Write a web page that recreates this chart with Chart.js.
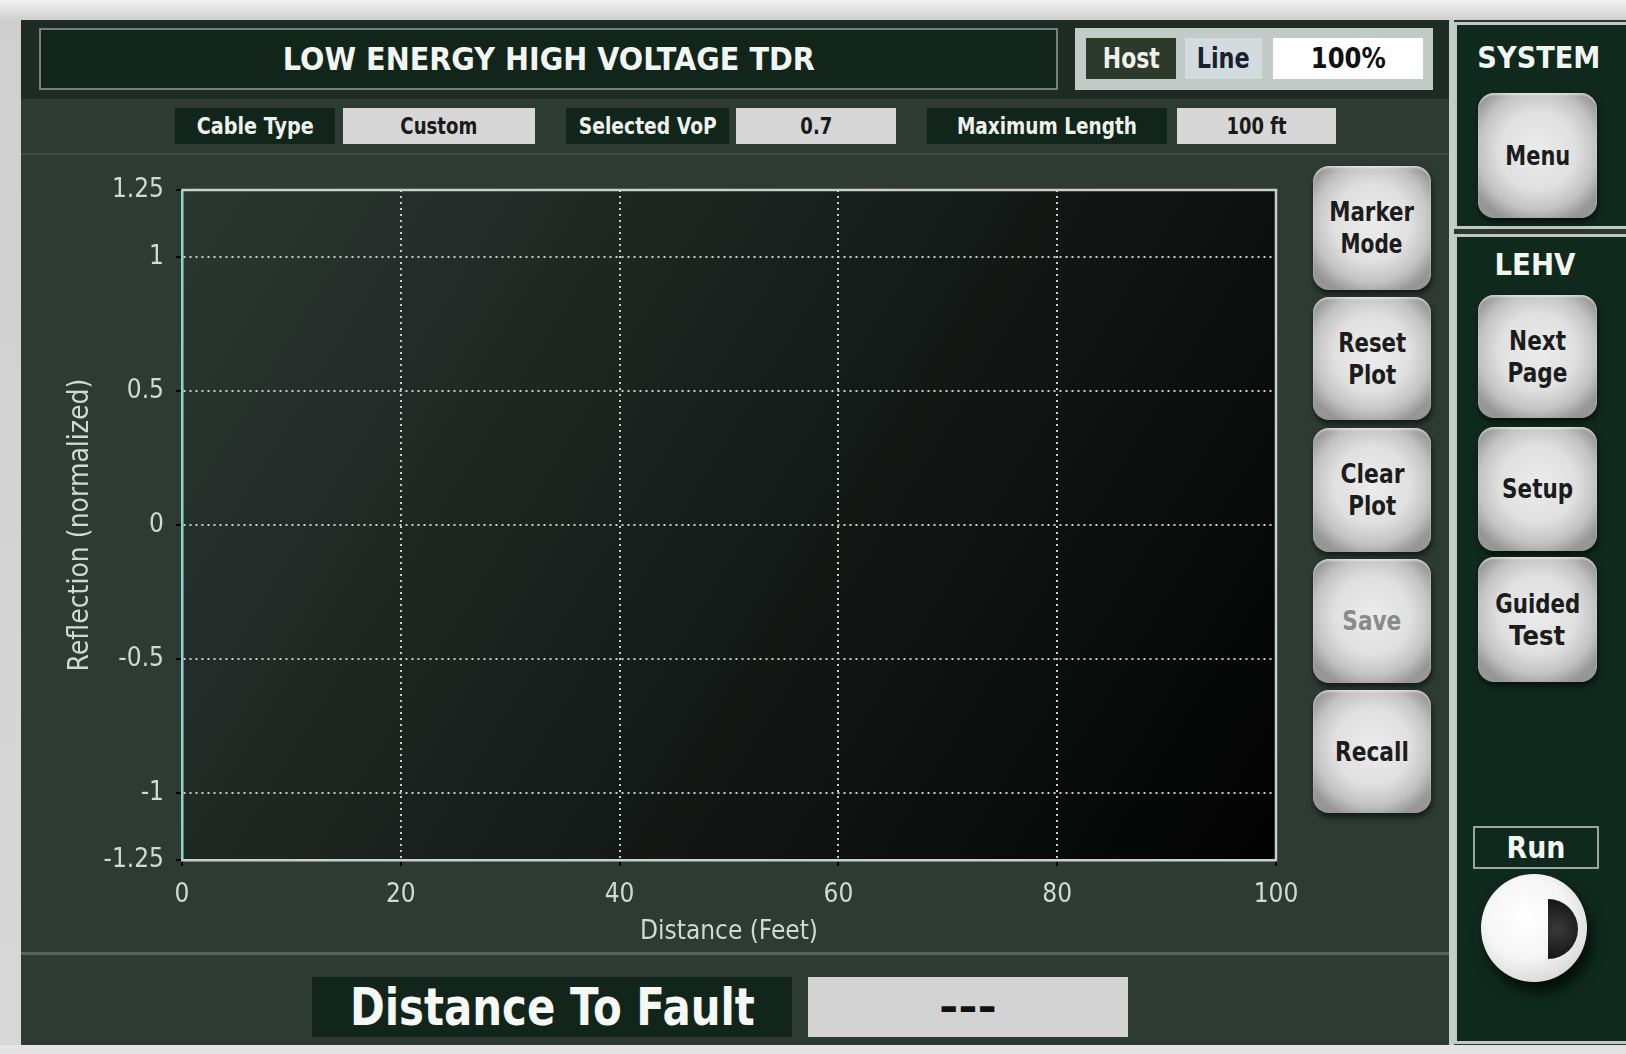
<!DOCTYPE html>
<html>
<head>
<meta charset="utf-8">
<script src="https://cdn.jsdelivr.net/npm/chart.js@4.4.1/dist/chart.umd.min.js"></script>
<style>
  html,body{margin:0;padding:0;}
  body{width:1626px;height:1054px;overflow:hidden;position:relative;
       background:linear-gradient(#f2f2f2,#cfcfcf 20px,#d8d8d8);font-family:"DejaVu Sans",sans-serif;}
  .abs{position:absolute;box-sizing:border-box;}
  .ctr{display:flex;flex-direction:column;align-items:center;justify-content:center;}
  .fit{display:inline-block;white-space:nowrap;line-height:1;font-weight:bold;transform-origin:50% 50%;}
  .btn{border-radius:16px;
       background:radial-gradient(ellipse 62% 60% at 50% 46%,#ececec 0%,#e0e0e0 52%,#c2c2c2 80%,#969696 100%);
       box-shadow:1px 4px 6px rgba(0,0,0,0.6), inset 0 2px 2px rgba(255,255,255,0.5);}
  .btn .fit{font-size:27px;color:#1c1c1c;line-height:32px;}
  .lbl{background:#12251a;}
  .lbl .fit{color:#eef2ee;font-size:23px;}
  .val{background:#d7d7d7;}
  .val .fit{color:#1a1a1a;font-size:23px;}
  #chartWrap{position:absolute;left:0;top:0;width:1626px;height:1054px;pointer-events:none;}
</style>
</head>
<body>
<!-- main panel -->
<div class="abs" style="left:21px;top:20px;width:1431px;height:1025px;background:#2e3b35;"></div>
<div class="abs" style="left:21px;top:20px;width:1429px;height:79px;background:#1e2b25;"></div>
<div class="abs" style="left:21px;top:153px;width:1429px;height:2px;background:#3f4c46;"></div>
<div class="abs" style="left:21px;top:952px;width:1429px;height:3px;background:#56635c;"></div>
<div class="abs" style="left:1449px;top:20px;width:5px;height:1025px;background:#c5cdc9;"></div>
<div class="abs" style="left:1454px;top:20px;width:180px;height:1025px;background:#2a3832;"></div>
<div class="abs" style="left:0;top:1045px;width:1626px;height:9px;background:#e4e4e4;"></div>

<!-- title -->
<div class="abs ctr" style="left:39px;top:28px;width:1019px;height:62px;background:#12251a;border:2px solid #72827a;">
  <span class="fit" data-w="532" style="font-size:32px;color:#f2f5f2;">LOW ENERGY HIGH VOLTAGE TDR</span>
</div>
<div class="abs" style="left:1075px;top:28px;width:358px;height:62px;background:#c3cbc8;"></div>
<div class="abs ctr" style="left:1086px;top:38px;width:90px;height:41px;background:#2c3a2c;">
  <span class="fit" data-w="57" style="font-size:28px;color:#f0f0ea;">Host</span></div>
<div class="abs ctr" style="left:1185px;top:38px;width:77px;height:41px;background:#d2dbde;">
  <span class="fit" data-w="53" style="font-size:28px;color:#1a2030;">Line</span></div>
<div class="abs ctr" style="left:1273px;top:38px;width:150px;height:41px;background:#ffffff;">
  <span class="fit" data-w="75" style="font-size:28px;color:#111;">100%</span></div>

<!-- row 2 -->
<div class="abs ctr lbl" style="left:175px;top:108px;width:160px;height:36px;"><span class="fit" data-w="117">Cable Type</span></div>
<div class="abs ctr val" style="left:343px;top:108px;width:192px;height:36px;"><span class="fit" data-w="77">Custom</span></div>
<div class="abs ctr lbl" style="left:566px;top:108px;width:163px;height:36px;"><span class="fit" data-w="138">Selected VoP</span></div>
<div class="abs ctr val" style="left:736px;top:108px;width:160px;height:36px;"><span class="fit" data-w="32">0.7</span></div>
<div class="abs ctr lbl" style="left:927px;top:108px;width:240px;height:36px;"><span class="fit" data-w="180">Maximum Length</span></div>
<div class="abs ctr val" style="left:1177px;top:108px;width:159px;height:36px;"><span class="fit" data-w="60">100 ft</span></div>

<!-- plot buttons -->
<div class="abs ctr btn" style="left:1313px;top:166px;width:118px;height:124px;"><span class="fit" data-w="85">Marker</span><span class="fit" data-w="62">Mode</span></div>
<div class="abs ctr btn" style="left:1313px;top:297px;width:118px;height:123px;"><span class="fit" data-w="68">Reset</span><span class="fit" data-w="48">Plot</span></div>
<div class="abs ctr btn" style="left:1313px;top:428px;width:118px;height:124px;"><span class="fit" data-w="64">Clear</span><span class="fit" data-w="48">Plot</span></div>
<div class="abs ctr btn" style="left:1313px;top:559px;width:118px;height:124px;"><span class="fit" data-w="59" style="color:#8a8a8a;">Save</span></div>
<div class="abs ctr btn" style="left:1313px;top:690px;width:118px;height:123px;"><span class="fit" data-w="74">Recall</span></div>

<!-- distance to fault -->
<div class="abs ctr" style="left:312px;top:977px;width:480px;height:60px;background:#12251a;">
  <span class="fit" data-w="405" style="font-size:52px;color:#f6f8f6;">Distance To Fault</span></div>
<div class="abs ctr" style="left:808px;top:977px;width:320px;height:60px;background:#d3d3d3;">
  <span class="fit" data-w="58" style="font-size:40px;color:#111;">---</span></div>

<!-- right panels -->
<div class="abs" style="left:1454px;top:22px;width:190px;height:207px;background:#0f2a1d;border:3px solid #c0c9c5;"></div>
<div class="abs" style="left:1454px;top:234px;width:190px;height:810px;background:#0f2a1d;border:3px solid #c0c9c5;"></div>
<div class="abs ctr" style="left:1440px;top:38px;width:198px;height:40px;"><span class="fit" data-w="123" style="font-size:30px;color:#f2f5f2;">SYSTEM</span></div>
<div class="abs ctr" style="left:1436px;top:245px;width:198px;height:40px;"><span class="fit" data-w="81" style="font-size:30px;color:#f2f5f2;">LEHV</span></div>
<div class="abs ctr btn" style="left:1478px;top:93px;width:119px;height:125px;"><span class="fit" data-w="65">Menu</span></div>
<div class="abs ctr btn" style="left:1478px;top:295px;width:119px;height:123px;"><span class="fit" data-w="57">Next</span><span class="fit" data-w="60">Page</span></div>
<div class="abs ctr btn" style="left:1478px;top:427px;width:119px;height:124px;"><span class="fit" data-w="71">Setup</span></div>
<div class="abs ctr btn" style="left:1478px;top:557px;width:119px;height:125px;"><span class="fit" data-w="85">Guided</span><span class="fit" data-w="56">Test</span></div>
<div class="abs ctr" style="left:1473px;top:826px;width:126px;height:43px;border:2px solid #9aa6a0;">
  <span class="fit" data-w="59" style="font-size:31px;color:#f2f5f2;">Run</span></div>
<div class="abs" style="left:1481px;top:874px;width:106px;height:108px;border-radius:50%;
     background:radial-gradient(circle at 42% 40%,#ffffff 0%,#f6f6f6 45%,#d6d6d6 80%,#8e8e8e 100%);
     box-shadow:5px 10px 14px rgba(0,0,0,0.7);"></div>
<div class="abs" style="left:1548px;top:899px;width:30px;height:60px;border-radius:0 30px 30px 0 / 0 30px 30px 0;
     background:radial-gradient(circle at 30% 50%,#3a3a3a,#0e0e0e);"></div>

<div id="chartWrap"><canvas id="c" width="1626" height="1054"></canvas></div>

<script>
// ---- data ----
const distanceTicks = [0, 20, 40, 60, 80, 100];
const reflectionTicks = [1.25, 1, 0.5, 0, -0.5, -1, -1.25];
const traceDistance = [];     // no trace acquired yet
const traceReflection = [];
const xTitle = 'Distance (Feet)';
const yTitle = 'Reflection (normalized)';

// ---- text fitting for UI labels ----
document.querySelectorAll('.fit').forEach(el => {
  const w = el.getBoundingClientRect().width;
  const t = +el.dataset.w;
  if (w > 0 && t) el.style.transform = 'scaleX(' + (t / w).toFixed(4) + ')';
});

const fam = '"DejaVu Sans Condensed","DejaVu Sans",sans-serif';
const tickFont = {family: fam, size: 26};
const textCol = '#d2d8d4';

const framePlugin = {
  id: 'frame',
  beforeDraw(chart) {
    const {ctx, chartArea: a} = chart;
    const g = ctx.createLinearGradient(a.left, a.top, a.right, a.bottom);
    g.addColorStop(0, '#2c3732');
    g.addColorStop(0.5, '#161c19');
    g.addColorStop(1, '#020202');
    ctx.save();
    ctx.fillStyle = g;
    ctx.fillRect(a.left, a.top, a.right - a.left, a.bottom - a.top);
    ctx.restore();
  },
  afterDraw(chart) {
    const {ctx, chartArea: a} = chart;
    ctx.save();
    ctx.strokeStyle = '#c9d0cd';
    ctx.lineWidth = 2.5;
    ctx.beginPath();
    ctx.moveTo(a.left, a.top);
    ctx.lineTo(a.right, a.top);
    ctx.lineTo(a.right, a.bottom);
    ctx.stroke();
    ctx.restore();
  }
};

const gridColor = (edges) => (c) => (c.tick && edges.includes(c.tick.value)) ? 'rgba(0,0,0,0)' : '#c8cfcb';

new Chart(document.getElementById('c'), {
  type: 'line',
  data: {
    datasets: [{
      label: 'Reflection',
      data: traceDistance.map((x, i) => ({x: x, y: traceReflection[i]})),
      borderColor: '#8fd3d3',
      borderWidth: 2,
      pointRadius: 0
    }]
  },
  options: {
    responsive: false,
    animation: false,
    layout: {padding: {left: 62, top: 190, right: 350, bottom: 104}},
    plugins: {legend: {display: false}, tooltip: {enabled: false}},
    scales: {
      x: {
        type: 'linear', min: distanceTicks[0], max: distanceTicks[distanceTicks.length - 1],
        afterBuildTicks: s => { s.ticks = distanceTicks.map(v => ({value: v})); },
        afterFit: s => { s.height = 90; },
        ticks: {color: textCol, font: tickFont, padding: 14, maxRotation: 0, callback: v => String(v)},
        grid: {color: gridColor([distanceTicks[0], distanceTicks[distanceTicks.length - 1]]),
               lineWidth: 2, tickLength: 6, tickColor: '#000', tickWidth: 2},
        border: {color: '#c9d0cd', width: 2.5, dash: [2, 4]},
        title: {display: true, text: xTitle, color: textCol, font: {family: fam, size: 26}, padding: {top: 0, bottom: 2}}
      },
      y: {
        type: 'linear', min: reflectionTicks[reflectionTicks.length - 1], max: reflectionTicks[0],
        afterBuildTicks: s => { s.ticks = reflectionTicks.slice().reverse().map(v => ({value: v})); },
        afterFit: s => { s.width = 120; },
        ticks: {color: textCol, font: tickFont, padding: 12, callback: v => String(v)},
        grid: {color: gridColor([reflectionTicks[0], reflectionTicks[reflectionTicks.length - 1]]),
               lineWidth: 2, tickLength: 6, tickColor: '#000', tickWidth: 2},
        border: {color: '#8fd3d3', width: 2.5, dash: [2, 4]},
        title: {display: true, text: yTitle, color: textCol, font: {family: fam, size: 28}, padding: {top: 2, bottom: 2}}
      }
    }
  },
  plugins: [framePlugin]
});
</script>
</body>
</html>
